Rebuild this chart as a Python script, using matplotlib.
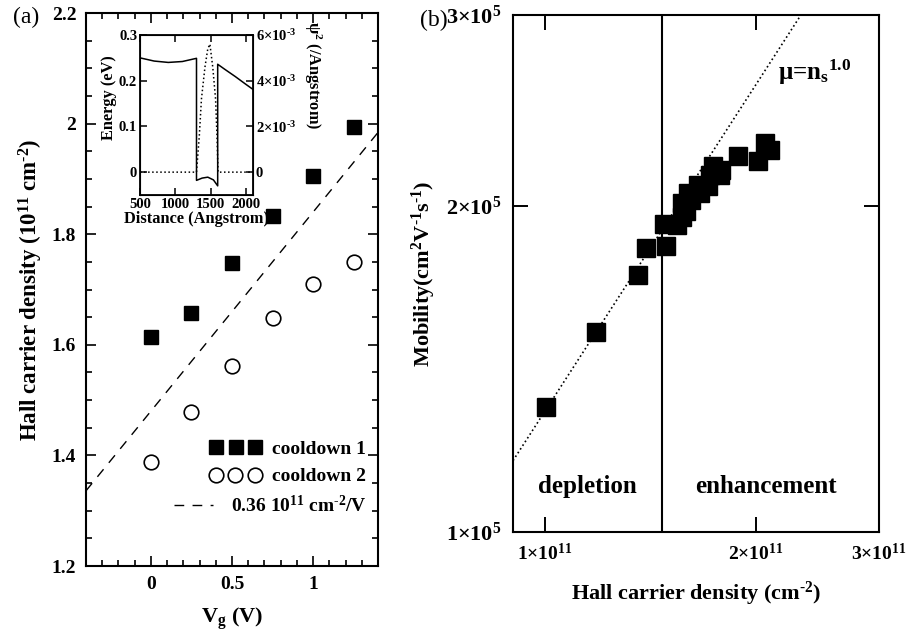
import matplotlib
matplotlib.use("Agg")
import matplotlib.pyplot as plt
from matplotlib.ticker import FixedLocator, MultipleLocator, NullLocator, FixedFormatter

plt.rcParams['font.family'] = ['Liberation Serif', 'DejaVu Serif']
plt.rcParams['font.weight'] = 'bold'
plt.rcParams['axes.labelweight'] = 'bold'
plt.rcParams['mathtext.fontset'] = 'custom'
plt.rcParams['mathtext.rm'] = 'Liberation Serif:bold'
plt.rcParams['mathtext.bf'] = 'Liberation Serif:bold'
plt.rcParams['mathtext.it'] = 'Liberation Serif:italic:bold'
plt.rcParams['mathtext.default'] = 'bf'

# --- panel (a): Hall density vs gate voltage ---
vg = [0.0, 0.25, 0.5, 0.75, 1.0, 1.25]
n_cool1 = [1.614, 1.657, 1.748, 1.833, 1.905, 1.994]
n_cool2 = [1.388, 1.478, 1.562, 1.648, 1.710, 1.750]
fit_slope = 0.36
fit_icpt = 1.48
vg_fit = [-0.4, 1.4]

# inset: band profile and wavefunction
dist_e = [500, 700, 900, 1100, 1300, 1300, 1380, 1460, 1540, 1600, 1600, 1700, 1850, 2000, 2100]
energy = [0.250, 0.243, 0.240, 0.242, 0.249, -0.018, -0.013, -0.011, -0.017, -0.030,
          0.236, 0.225, 0.209, 0.192, 0.181]
dist_w = [500, 1300, 1340, 1370, 1420, 1460, 1490, 1530, 1570, 1590, 1605, 2100]
psi2 = [0, 0, 1.6e-3, 3.2e-3, 4.6e-3, 5.4e-3, 5.6e-3, 4.6e-3, 3.2e-3, 1.6e-3, 0, 0]

# --- panel (b): mobility vs density ---
hall_n = [1.003e11, 1.183e11, 1.359e11, 1.395e11, 1.490e11, 1.477e11, 1.545e11, 1.571e11,
          1.592e11, 1.571e11, 1.618e11, 1.600e11, 1.664e11, 1.654e11, 1.710e11, 1.719e11,
          1.777e11, 1.738e11, 1.786e11, 1.884e11, 2.012e11, 2.060e11, 2.099e11]
mobility = [1.305e5, 1.531e5, 1.727e5, 1.830e5, 1.838e5, 1.924e5, 1.920e5, 1.952e5,
            1.976e5, 2.012e5, 2.026e5, 2.055e5, 2.055e5, 2.091e5, 2.084e5, 2.137e5,
            2.137e5, 2.175e5, 2.160e5, 2.222e5, 2.202e5, 2.285e5, 2.253e5]
mu_coef = 1.293e5   # mu = coef * (n/1e11)^1.0
mu_pow = 1.0
n_fit = [9e10, 3e11]
n_split = 1.47e11

fig = plt.figure(figsize=(9.08, 6.32), dpi=100)

# ---------------- (a) ----------------
ax = fig.add_axes([86/908, 1 - 566/632, 292/908, 553/632])
ax.plot(vg, n_cool1, 's', color='black', ms=10.5, label='cooldown 1')
ax.plot(vg, n_cool2, 'o', mfc='white', mec='black', mew=1.2, ms=10.5, label='cooldown 2')
yfit = [fit_icpt + fit_slope * v for v in vg_fit]
ax.plot(vg_fit, yfit, color='black', lw=1.0, dashes=(7, 6),
        label=r'0.36 10$^{11}$ cm$^{\text{-2}}$/V')
ax.set_xlim(-0.4, 1.4)
ax.set_ylim(1.2, 2.2)
ax.xaxis.set_major_locator(FixedLocator([0, 0.5, 1]))
ax.xaxis.set_major_formatter(FixedFormatter(['0', '0.5', '1']))
ax.xaxis.set_minor_locator(MultipleLocator(0.1))
ax.yaxis.set_major_locator(FixedLocator([1.2, 1.4, 1.6, 1.8, 2.0, 2.2]))
ax.yaxis.set_major_formatter(FixedFormatter(['1.2', '1.4', '1.6', '1.8', '2', '2.2']))
ax.yaxis.set_minor_locator(MultipleLocator(0.05))
ax.tick_params(which='both', direction='in', top=True, right=True, width=1.2, labelsize=14)
ax.tick_params(which='major', length=7, pad=7)
ax.tick_params(which='minor', length=4)
for s in ax.spines.values():
    s.set_linewidth(1.5)
ax.set_xlabel(r'V$_g$ (V)', fontsize=16)
ax.set_ylabel(r'Hall carrier density (10$^{11}$ cm$^{\text{-2}}$)', fontsize=16.5)
ax.xaxis.set_label_coords(0.5, -0.072)
ax.yaxis.set_label_coords(-0.14, 0.5)

leg = ax.legend(loc='lower right', bbox_to_anchor=(0.96, 0.09), frameon=False,
                numpoints=3, fontsize=14, handlelength=2.6, handletextpad=0.6,
                labelspacing=0.5, borderpad=0, borderaxespad=0)
# right-align the rows like the original
leg._legend_handle_box.get_children()[0].align = 'right'

# inset
ins = fig.add_axes([140/908, 1 - 195/632, 113/908, 160/632])
ins.plot(dist_e, energy, color='black', lw=1.1)
ins.set_xlim(500, 2100)
ins.set_ylim(-0.05, 0.3)
ins.xaxis.set_major_locator(FixedLocator([500, 1000, 1500, 2000]))
ins.yaxis.set_major_locator(FixedLocator([0, 0.1, 0.2, 0.3]))
ins.yaxis.set_major_formatter(FixedFormatter(['0', '0.1', '0.2', '0.3']))
ins.tick_params(direction='in', top=True, length=5, width=1.1, labelsize=10.5, pad=2)
for s in ins.spines.values():
    s.set_linewidth(1.3)
ins.set_xlabel('Distance (Angstrom)', fontsize=11.8, labelpad=0)
ins.set_ylabel('Energy (eV)', fontsize=11.8)
ins.yaxis.set_label_coords(-0.2, 0.61)

ins2 = ins.twinx()
ins2.plot(dist_w, psi2, color='black', lw=1.1, ls=':')
ins2.set_ylim(-1e-3, 6e-3)
ins2.yaxis.set_major_locator(FixedLocator([0, 2e-3, 4e-3, 6e-3]))
ins2.yaxis.set_major_formatter(FixedFormatter(['0', r'2×10$^{\text{-3}}$', r'4×10$^{\text{-3}}$',
                                               r'6×10$^{\text{-3}}$']))
ins2.tick_params(direction='in', length=5, width=1.1, labelsize=10.5, pad=2)
ins2.set_ylabel(r'ψ$^2$ (/Angstrom)', fontsize=11.8, rotation=-90)
ins2.yaxis.set_label_coords(1.62, 0.75)

# ---------------- (b) ----------------
bx = fig.add_axes([513/908, 1 - 532/632, 366/908, 517/632])
bx.set_xscale('log')
bx.set_yscale('log')
bx.plot(hall_n, mobility, 's', color='black', ms=13)
mu_fit = [mu_coef * (n / 1e11) ** mu_pow for n in n_fit]
bx.plot(n_fit, mu_fit, color='black', lw=1.2, ls=':')
bx.axvline(n_split, color='black', lw=1.5)
bx.set_xlim(9e10, 3e11)
bx.set_ylim(1e5, 3e5)
bx.xaxis.set_major_locator(FixedLocator([1e11, 2e11, 3e11]))
bx.xaxis.set_major_formatter(FixedFormatter(['1×10$^{11}$', '2×10$^{11}$', '3×10$^{11}$']))
bx.xaxis.set_minor_locator(NullLocator())
bx.yaxis.set_major_locator(FixedLocator([1e5, 2e5, 3e5]))
bx.yaxis.set_major_formatter(FixedFormatter(['1×10$^5$', '2×10$^5$', '3×10$^5$']))
bx.yaxis.set_minor_locator(NullLocator())
bx.tick_params(direction='in', top=True, right=True, length=11, width=1.4, labelsize=14)
bx.tick_params(axis='x', pad=8)
bx.tick_params(axis='y', pad=8, labelsize=16)
for s in bx.spines.values():
    s.set_linewidth(1.5)
bx.set_xlabel(r'Hall carrier density (cm$^{\text{-2}}$)', fontsize=16)
bx.set_ylabel(r'Mobility(cm$^2$V$^{\text{-1}}$s$^{\text{-1}}$)', fontsize=16)
bx.xaxis.set_label_coords(0.5, -0.093)
bx.yaxis.set_label_coords(-0.205, 0.5)

bx.text(0.202, 0.0755, 'depletion', transform=bx.transAxes, ha='center', va='baseline', fontsize=18)
bx.text(0.692, 0.0755, 'enhancement', transform=bx.transAxes, ha='center', va='baseline', fontsize=18)
bx.text(0.724, 0.874, r'μ=n$_s$$^{1.0}$', transform=bx.transAxes, ha='left', va='baseline', fontsize=18)

fig.text(13/908, 1 - 23/632, '(a)', fontsize=17, fontweight='normal', va='baseline')
fig.text(420/908, 1 - 26/632, '(b)', fontsize=17, fontweight='normal', va='baseline')

fig.savefig('out.png', dpi=100)
